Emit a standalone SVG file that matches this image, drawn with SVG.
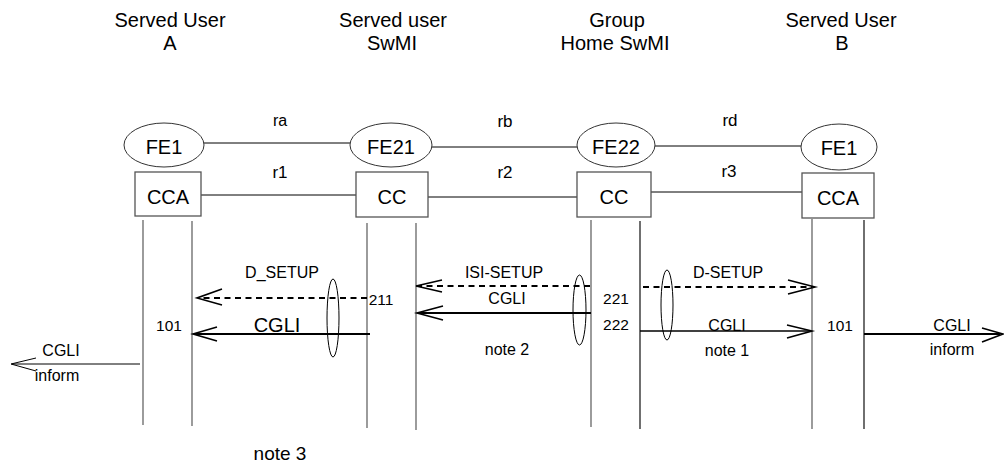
<svg xmlns="http://www.w3.org/2000/svg" width="1004" height="466" viewBox="0 0 1004 466">
<style>
text{font-family:"Liberation Sans",Arial,sans-serif;fill:#000;text-anchor:middle}
.hdr{font-size:20px}
.fe{font-size:20px}
.r{font-size:17px}
.lbl{font-size:16px}
.num{font-size:15.5px}
.big{font-size:20px}
.ell{fill:#fff;stroke:#333;stroke-width:1}
.box{fill:#fff;stroke:#555;stroke-width:1.3}
.life{stroke:#666;stroke-width:1.3;fill:none}
.link{stroke:#000;stroke-width:1;fill:none}
.dash{stroke:#000;stroke-width:1.8;stroke-dasharray:6,4.5;fill:none}
.sol{stroke:#000;stroke-width:2;fill:none}
.thin{stroke:#000;stroke-width:1;fill:none}
.head{stroke:#000;stroke-width:1.6;fill:none}
.oval{fill:none;stroke:#000;stroke-width:1}
</style>
<rect width="1004" height="466" fill="#fff"/>

<g id="headers">
<text class="hdr" x="170" y="27">Served User</text>
<text class="hdr" x="170" y="50">A</text>
<text class="hdr" x="393" y="27">Served user</text>
<text class="hdr" x="392" y="50">SwMI</text>
<text class="hdr" x="617" y="27">Group</text>
<text class="hdr" x="615" y="50">Home SwMI</text>
<text class="hdr" x="841" y="27">Served User</text>
<text class="hdr" x="842" y="50">B</text>
</g>

<g id="connectors">
<line class="link" x1="204" y1="143" x2="350" y2="143"/>
<line class="link" x1="432" y1="147" x2="577" y2="147"/>
<line class="link" x1="655" y1="146" x2="801" y2="146"/>
<line class="link" x1="201" y1="195" x2="356" y2="195"/>
<line class="link" x1="428" y1="197" x2="577" y2="197"/>
<line class="link" x1="651" y1="192" x2="802" y2="192"/>
<text class="lbl" x="280" y="126">ra</text>
<text class="r" x="505" y="127">rb</text>
<text class="r" x="730" y="126">rd</text>
<text class="r" x="280" y="178">r1</text>
<text class="r" x="505" y="178">r2</text>
<text class="r" x="729" y="177">r3</text>

<line class="life" x1="143" y1="220" x2="143" y2="425"/>
<line class="life" x1="192" y1="221" x2="192" y2="426"/>
<line class="life" x1="367" y1="223" x2="367" y2="428"/>
<line class="life" x1="416" y1="223" x2="416" y2="430"/>
<line class="life" x1="591" y1="220" x2="591" y2="427"/>
<line class="life" x1="640" y1="221" x2="640" y2="429" style="stroke:#222"/>
<line class="life" x1="812" y1="219" x2="812" y2="429"/>
<line class="life" x1="864" y1="220" x2="864" y2="429" style="stroke:#222"/>

<!-- D_SETUP -->
<line class="dash" x1="367" y1="298" x2="199" y2="298"/>
<polyline class="head" points="222,289 197,298 222,305"/>
<text class="lbl" x="282" y="278">D_SETUP</text>
<text class="num" x="381" y="305">211</text>
<!-- CGLI to A -->
<line class="sol" x1="370" y1="334" x2="194" y2="334"/>
<polyline class="head" points="217,327 193,334 217,341"/>
<text class="big" x="277" y="332">CGLI</text>
<text class="num" x="169" y="331">101</text>
<ellipse class="oval" cx="333" cy="318" rx="6" ry="39"/>
<!-- inform A -->
<line class="thin" x1="140" y1="364" x2="12" y2="364"/>
<polyline class="thin" points="36,358 11,364 36,371"/>
<text class="lbl" x="61" y="356">CGLI</text>
<text class="lbl" x="57" y="381">inform</text>

<!-- ISI-SETUP -->
<line class="dash" x1="590" y1="286" x2="418" y2="286"/>
<polyline class="head" points="442,280 416,286 442,292"/>
<text class="lbl" x="504" y="278">ISI-SETUP</text>
<line class="sol" x1="591" y1="313" x2="419" y2="313"/>
<polyline class="head" points="443,306 417,313 443,320"/>
<text class="lbl" x="507" y="304">CGLI</text>
<text class="lbl" x="507" y="355">note 2</text>
<ellipse class="oval" cx="579.5" cy="310" rx="6.5" ry="35"/>
<text class="num" x="616" y="304">221</text>
<text class="num" x="616" y="330">222</text>

<!-- D-SETUP -->
<line class="dash" x1="643" y1="287" x2="812" y2="287"/>
<polyline class="head" points="788,280 815,287 788,294"/>
<text class="lbl" x="728" y="278">D-SETUP</text>
<ellipse class="oval" cx="667" cy="305" rx="6" ry="35"/>
<line class="sol" x1="640" y1="331" x2="810" y2="331" style="stroke-width:1.6"/>
<polyline class="head" points="787,325 812,331 787,338"/>
<text class="lbl" x="727" y="331">CGLI</text>
<text class="lbl" x="727" y="356">note 1</text>
<text class="num" x="840" y="331">101</text>
<!-- inform B -->
<line class="sol" x1="864" y1="334" x2="1000" y2="334"/>
<polyline class="head" points="982,328 1003,334 982,342"/>
<text class="lbl" x="952" y="331">CGLI</text>
<text class="lbl" x="952" y="355">inform</text>

<text class="r" x="280" y="460" style="font-size:19px">note 3</text>
</g>

<g id="fe1a">
<ellipse class="ell" cx="164" cy="145" rx="40" ry="22"/>
<text class="fe" x="164" y="154">FE1</text>
</g>
<g id="fe21">
<ellipse class="ell" cx="391" cy="145" rx="41" ry="22"/>
<text class="fe" x="391" y="154">FE21</text>
</g>
<g id="fe22">
<ellipse class="ell" cx="616" cy="145" rx="39" ry="22"/>
<text class="fe" x="616" y="154">FE22</text>
</g>
<g id="fe1b">
<ellipse class="ell" cx="839" cy="147" rx="38" ry="23"/>
<text class="fe" x="839" y="155">FE1</text>
</g>

<g id="cca-a">
<rect class="box" x="135" y="172" width="66" height="44"/>
<text class="fe" x="168" y="204">CCA</text>
</g>
<g id="cc-1">
<rect class="box" x="356" y="172" width="72" height="45"/>
<text class="fe" x="392" y="204">CC</text>
</g>
<g id="cc-2">
<rect class="box" x="577" y="172" width="74" height="45"/>
<text class="fe" x="614" y="204">CC</text>
</g>
<g id="cca-b">
<rect class="box" x="802" y="173" width="72" height="45"/>
<text class="fe" x="838" y="205">CCA</text>
</g>
</svg>
